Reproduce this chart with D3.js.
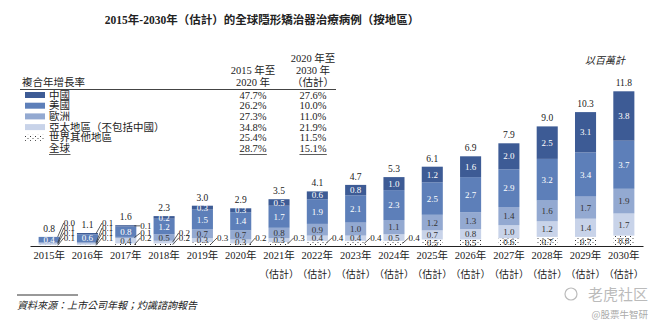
<!DOCTYPE html>
<html>
<head>
<meta charset="utf-8">
<script src="https://cdn.jsdelivr.net/npm/d3@7"></script>
<style>
  body { margin: 0; background: #fff; }
  svg text { font-family: "Liberation Serif", "Noto Sans CJK TC", serif; fill: #222; }
</style>
</head>
<body>
<div id="chart"></div>
<script>
// data (millions of cases)
const categories = ['2015年','2016年','2017年','2018年','2019年','2020年','2021年','2022年',
  '2023年','2024年','2025年','2026年','2027年','2028年','2029年','2030年'];
const subLabels = ['','','','','','','（估計）','（估計）','（估計）','（估計）','（估計）',
  '（估計）','（估計）','（估計）','（估計）','（估計）'];
const china  = [0.0,0.1,0.1,0.2,0.3,0.3,0.5,0.6,0.8,1.0,1.2,1.6,2.0,2.5,3.1,3.8];
const usa    = [0.4,0.6,0.8,1.2,1.5,1.4,1.7,1.9,2.1,2.3,2.5,2.7,2.9,3.2,3.4,3.7];
const europe = [0.1,0.1,0.1,0.5,0.7,0.7,0.8,0.9,1.0,1.1,1.2,1.3,1.4,1.6,1.7,1.9];
const apac   = [0.1,0.1,0.4,0.2,0.3,0.3,0.3,0.4,0.4,0.5,0.7,0.8,1.0,1.2,1.4,1.7];
const rest   = [0.1,0.1,0.2,0.2,0.3,0.2,0.3,0.4,0.4,0.4,0.5,0.5,0.6,0.7,0.7,0.8];
const totals = [0.8,1.1,1.6,2.3,3.0,2.9,3.5,4.1,4.7,5.3,6.1,6.9,7.9,9.0,10.3,11.8];

const legendNames = ['中國','美國','歐洲','亞太地區（不包括中國）','世界其他地區','全球'];
const cagr1520 = ['47.7%','26.2%','27.3%','34.8%','25.4%','28.7%'];
const cagr2030 = ['27.6%','10.0%','11.0%','21.9%','11.5%','15.1%'];

const W = 660, H = 330;
const svg = d3.select('#chart').append('svg').attr('width', W).attr('height', H);

// dotted fill for "rest of world"
const pat = svg.append('defs').append('pattern')
  .attr('id', 'dots').attr('patternUnits', 'userSpaceOnUse')
  .attr('width', 5).attr('height', 4);
pat.append('rect').attr('width', 5).attr('height', 4).attr('fill', '#fff');
pat.append('rect').attr('x', 0).attr('y', 0).attr('width', 1).attr('height', 1).attr('fill', '#333');
pat.append('rect').attr('x', 2.5).attr('y', 2).attr('width', 1).attr('height', 1).attr('fill', '#555');

const keys = ['rest','apac','europe','usa','china']; // bottom -> top
const colors = { china: '#3d5b95', usa: '#5d7fb9', europe: '#93a9d1', apac: '#c8d3e9', rest: 'url(#dots)' };
const labelColor = { china: '#fff', usa: '#fff', europe: '#333', apac: '#333', rest: '#333' };
const insideMin = { china: 0.2, usa: 0.2, europe: 0.2, apac: 0.3, rest: 0.5 };

const rows = categories.map((c, i) => ({
  cat: c, china: china[i], usa: usa[i], europe: europe[i], apac: apac[i], rest: rest[i], total: totals[i]
}));
const series = d3.stack().keys(keys)(rows);

const x = d3.scaleBand().domain(categories).range([30, 643]).paddingInner(0.45).paddingOuter(0.225);
const y = d3.scaleLinear().domain([0, 12]).range([246, 90]);

// title
svg.append('text').attr('x', 262).attr('y', 24).attr('text-anchor', 'middle')
  .style('font-size', '11.5px').style('font-weight', 'bold')
  .text('2015年-2030年（估計）的全球隱形矯治器治療病例（按地區）');

svg.append('text').attr('x', 625).attr('y', 64).attr('text-anchor', 'end')
  .style('font-size', '10px').style('font-style', 'italic').text('以百萬計');

// bars
const g = svg.append('g');
series.forEach(s => {
  g.append('g').selectAll('rect').data(s).join('rect')
    .attr('x', d => x(d.data.cat))
    .attr('y', d => y(d[1]))
    .attr('width', x.bandwidth())
    .attr('height', d => y(d[0]) - y(d[1]))
    .attr('fill', colors[s.key]);
});

// segment labels, small ones pulled outside on the right
categories.forEach((c, i) => {
  const bx = x(c), bw = x.bandwidth();
  let prevY = 243;
  series.forEach(s => {
    const d = s[i], v = rows[i][s.key];
    const mid = y((d[0] + d[1]) / 2);
    if (v >= insideMin[s.key]) {
      g.append('text').attr('x', bx + bw / 2).attr('y', mid).attr('dy', '0.35em')
        .attr('text-anchor', 'middle').style('font-size', '9px')
        .style('fill', labelColor[s.key]).text(v.toFixed(1));
    } else {
      const ly = Math.min(mid, prevY - 5);
      prevY = ly;
      g.append('line').attr('x1', bx + bw - 2).attr('y1', mid).attr('x2', bx + bw + 4).attr('y2', ly)
        .attr('stroke', '#333').attr('stroke-width', 0.8);
      g.append('text').attr('x', bx + bw + 4).attr('y', ly).attr('dy', '0.35em')
        .style('font-size', '9px').text(v.toFixed(1));
    }
  });
  const top = series[series.length - 1][i][1];
  g.append('text').attr('x', bx + bw / 2).attr('y', y(top) - 5)
    .attr('text-anchor', 'middle').style('font-size', '9.5px').text(totals[i].toFixed(1));
});

// x axis
const ax = svg.append('g').attr('transform', 'translate(0,246)')
  .call(d3.axisBottom(x).tickSize(0).tickPadding(6));
ax.select('.domain').attr('stroke', '#222').attr('stroke-width', 1.2);
ax.selectAll('.tick text').style('font-size', '10.5px').style('fill', '#222')
  .style('font-family', '"Liberation Serif", "Noto Sans CJK TC", serif');
ax.selectAll('.tick').each(function (d, i) {
  if (subLabels[i]) {
    d3.select(this).append('text').attr('y', 25).attr('dy', '0.71em')
      .attr('text-anchor', 'middle').style('font-size', '10px').style('fill', '#222')
      .text(subLabels[i]);
  }
});

// legend table
const lg = svg.append('g').style('font-size', '10.5px');
lg.append('text').attr('x', 22).attr('y', 86).text('複合年增長率');
[['2015 年至', '2020 年'], ['2020 年至', '2030 年', '（估計）']].forEach((lines, k) => {
  const cx = k === 0 ? 253 : 313;
  lines.forEach((t, j) => {
    lg.append('text').attr('x', cx).attr('y', 86 - (lines.length - 1 - j) * 12)
      .attr('text-anchor', 'middle').text(t);
  });
});
lg.append('line').attr('x1', 20).attr('x2', 336).attr('y1', 89.5).attr('y2', 89.5)
  .attr('stroke', '#444').attr('stroke-width', 1);

const swatchKeys = ['china','usa','europe','apac','rest', null];
legendNames.forEach((name, i) => {
  const ry = 95 + i * 10.7;
  const k = swatchKeys[i];
  if (k) {
    lg.append('rect').attr('x', 25).attr('y', ry - 3).attr('width', 20).attr('height', 6)
      .attr('fill', colors[k]);
  }
  const lab = lg.append('text').attr('x', 49).attr('y', ry).attr('dy', '0.35em').text(name);
  const c1 = lg.append('text').attr('x', 253).attr('y', ry).attr('dy', '0.35em')
    .attr('text-anchor', 'middle').text(cagr1520[i]);
  const c2 = lg.append('text').attr('x', 313).attr('y', ry).attr('dy', '0.35em')
    .attr('text-anchor', 'middle').text(cagr2030[i]);
  if (!k) {
    [lab, c1, c2].forEach(t => {
      const b = t.node().getBBox();
      lg.append('line').attr('x1', b.x).attr('x2', b.x + b.width)
        .attr('y1', ry + 6).attr('y2', ry + 6).attr('stroke', '#333').attr('stroke-width', 0.8);
    });
  }
});

// source
svg.append('line').attr('x1', 17).attr('x2', 78).attr('y1', 295).attr('y2', 295)
  .attr('stroke', '#333').attr('stroke-width', 1);
svg.append('text').attr('x', 17).attr('y', 309).style('font-size', '10px')
  .style('font-style', 'italic').text('資料來源：上市公司年報；灼識諮詢報告');

// watermark
svg.append('text').attr('x', 648).attr('y', 300).attr('text-anchor', 'end')
  .style('font-size', '15px').style('fill', '#bbb').style('font-family', '"Noto Sans CJK SC", sans-serif')
  .text('老虎社区');
svg.append('circle').attr('cx', 571).attr('cy', 294).attr('r', 6)
  .attr('fill', 'none').attr('stroke', '#bbb').attr('stroke-width', 1.2);
svg.append('text').attr('x', 648).attr('y', 318).attr('text-anchor', 'end')
  .style('font-size', '9.5px').style('fill', '#aaa').style('font-family', '"Noto Sans CJK SC", sans-serif')
  .text('@股票牛智研');
</script>
</body>
</html>
